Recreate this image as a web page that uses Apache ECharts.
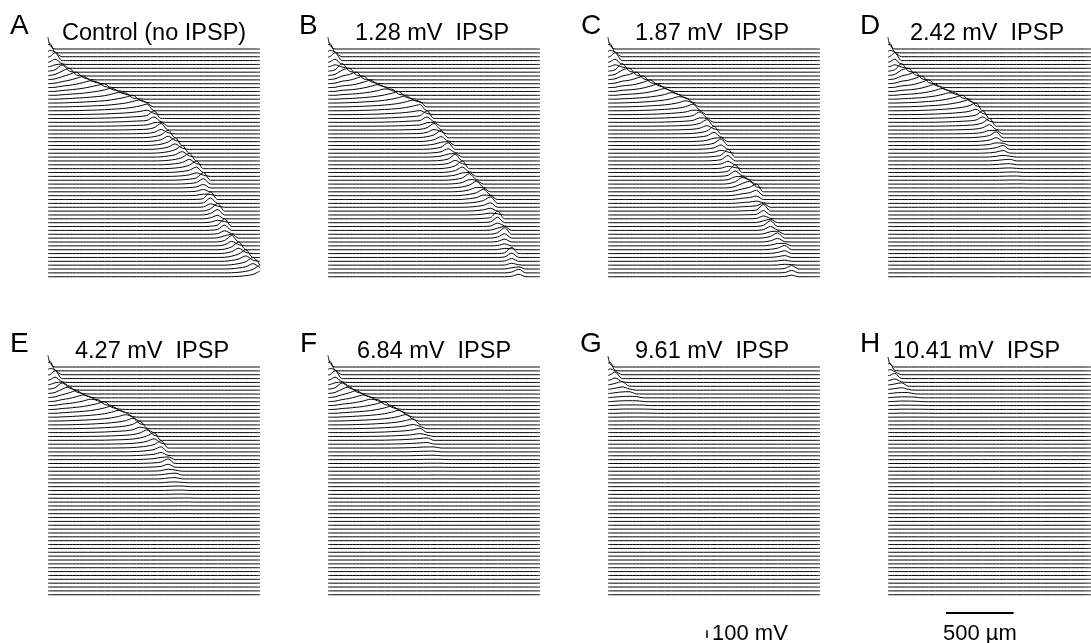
<!DOCTYPE html>
<html><head><meta charset="utf-8">
<script src="https://cdn.jsdelivr.net/npm/echarts@6/dist/echarts.min.js"></script>
<style>html,body{margin:0;padding:0;background:#fff}#c{width:1091px;height:643px}</style>
</head><body><div id="c"></div>
<script>
// distance along dendrite (µm), sample positions
const distanceUm = [0,15,50,100,150,200,250,300,350,400,450,500,550,600,650,700,750,800,850,900,950,1000,1050,1100,1150,1200,1250,1300,1350,1400,1450,1500];
// temporal spike waveform: time relative to arrival (in trace steps) and fraction of peak
const spikeWaveTau  = [-2, -1, -0.5, 0, 1, 2, 3, 4, 6, 8, 10];
const spikeWaveFrac = [0, 0.15, 0.5, 1, 0.7, 0.45, 0.3, 0.2, 0.08, 0.02, 0];
const traceCount = 60;
const traceOffsetMv = 50;
const panelLetters = ['A','B','C','D','E','F','G','H'];
const panelTitles = ['Control (no IPSP)','1.28 mV  IPSP','1.87 mV  IPSP','2.42 mV  IPSP','4.27 mV  IPSP','6.84 mV  IPSP','9.61 mV  IPSP','10.41 mV  IPSP'];
// arrival trace index of spike peak at each distance, and peak amplitude (mV)
const arrivalA = [0,0.7,2.5,5.5,7,8,8.8,9.6,10.3,11,11.8,12.5,13.2,14,14.7,15.5,18,20.5,23,25,27,29,31,34,39,42,46,49.5,52,54,56,58];
const ampA     = [150,130,120,110,100,100,100,100,100,100,100,100,100,100,100,100,100,100,100,100,100,100,100,100,100,100,100,100,100,100,100,105];
const arrivalB = [0,0.7,2.5,6,7,8,9,9.8,10.6,11.4,12.2,13,13.8,14.6,15.3,18,20.5,22.8,25.5,28.5,31,33.5,35.5,37.5,39.5,44,47.5,53,57.5,61,64,67];
const ampB     = [150,130,120,110,100,100,100,100,100,100,100,100,100,100,100,100,100,100,100,100,100,100,100,100,100,100,100,80,55,30,15,8];
const arrivalC = [0,0.7,2.5,6,7,8,9,10,10.8,11.6,12.5,13.4,14.3,15.5,17.5,19.5,22,24.5,28,32,34.5,35.5,37,41.5,45.5,48.5,51.5,57,62,66,70,74];
const ampC     = [150,130,120,110,100,100,100,100,100,100,100,100,100,100,100,100,100,100,100,100,100,100,100,100,90,80,65,45,25,12,6,3];
const arrivalD = [0,0.7,2.5,6,7,8,9,10,10.8,11.6,12.4,13.2,14,14.8,16,18,20,22.5,25.5,28.5,31.5,34.5,37.5,40.5,43.5,46.5,49.5,52.5,55.5,58.5,61.5,64.5];
const ampD     = [150,130,120,110,100,100,100,100,100,100,100,100,100,100,100,100,100,90,60,25,8,2,0,0,0,0,0,0,0,0,0,0];
const arrivalE = [0,0.7,2.5,5.5,6.8,7.8,8.6,9.4,10.2,11,11.8,12.6,13.4,14.5,16,17.5,19,21,24.5,27.5,30.5,33.5,36.5,39.5,42.5,45.5,48.5,51.5,54.5,57.5,60.5,63.5];
const ampE     = [150,130,120,110,100,100,100,100,100,100,100,100,100,100,100,100,100,95,70,30,10,3,0,0,0,0,0,0,0,0,0,0];
const arrivalF = [0,0.7,2.5,5.5,6.8,7.8,8.6,9.4,10.2,11,11.8,12.6,13.6,14.8,16.5,18.5,21,24,27,30,33,36,39,42,45,48,51,54,57,60,63,66];
const ampF     = [150,130,120,110,100,100,100,100,100,100,100,100,95,85,65,38,15,4,1,0,0,0,0,0,0,0,0,0,0,0,0,0];
const arrivalG = [0,0.7,2.5,5,6.5,8,9.5,11,13,15,17,19,21,23,25,27,29,31,33,35,37,39,41,43,45,47,49,51,53,55,57,59];
const ampG     = [140,120,100,60,35,18,8,3,1,0,0,0,0,0,0,0,0,0,0,0,0,0,0,0,0,0,0,0,0,0,0,0];
const arrivalH = [0,0.7,2.5,5,6.5,8,9.5,11,13,15,17,19,21,23,25,27,29,31,33,35,37,39,41,43,45,47,49,51,53,55,57,59];
const ampH     = [130,105,80,45,22,10,4,1,0,0,0,0,0,0,0,0,0,0,0,0,0,0,0,0,0,0,0,0,0,0,0,0];

const arrivals = [arrivalA,arrivalB,arrivalC,arrivalD,arrivalE,arrivalF,arrivalG,arrivalH];
const amps = [ampA,ampB,ampC,ampD,ampE,ampF,ampG,ampH];

function waveAt(tau){
  const T = spikeWaveTau, F = spikeWaveFrac;
  if (tau <= T[0] || tau >= T[T.length-1]) return 0;
  for (let k=0;k<T.length-1;k++){
    if (tau>=T[k] && tau<=T[k+1]){ const f=(tau-T[k])/(T[k+1]-T[k]); return F[k]+(F[k+1]-F[k])*f; }
  }
  return 0;
}

const pxPerMv = 3.86/traceOffsetMv;
const yMax = 200, yMin = -3000;
const colLeft = [48,328,608,888];
const rowBase = [49, 367];
const grids=[], xAxes=[], yAxes=[], series=[], graphics=[];
for (let p=0;p<8;p++){
  const r = Math.floor(p/4), c = p%4;
  grids.push({left: colLeft[c], top: rowBase[r] - yMax*pxPerMv, width: 212, height: (yMax-yMin)*pxPerMv, containLabel:false});
  xAxes.push({type:'value', gridIndex:p, min:0, max:1500, show:false});
  yAxes.push({type:'value', gridIndex:p, min:yMin, max:yMax, show:false});
  for (let i=0;i<traceCount;i++){
    const data = distanceUm.map((x,k)=>[x, amps[p][k]*waveAt(i-arrivals[p][k]) - traceOffsetMv*i]);
    series.push({type:'line', xAxisIndex:p, yAxisIndex:p, data, symbol:'none', smooth:0.3, silent:true,
      lineStyle:{color:'#000', width:1}, animation:false, clip:true});
  }
}
const FONT = '"Liberation Sans", Arial, sans-serif';
const letterPos = [[10,26],[299,26],[581,26],[860,26],[10,344],[300,344],[580,344],[860,344]];
const titlePos = [[62,34],[355,34],[635,34],[910,34],[75,352],[357,352],[635,352],[893,352]];
for (let p=0;p<8;p++){
  graphics.push({type:'text', x:letterPos[p][0], y:letterPos[p][1], style:{text:panelLetters[p], font:'28px '+FONT, fill:'#000', textVerticalAlign:'middle'}});
  graphics.push({type:'text', x:titlePos[p][0], y:titlePos[p][1], style:{text:panelTitles[p], font:'23.5px '+FONT, fill:'#000', textVerticalAlign:'middle'}});
}
const chart = echarts.init(document.getElementById('c'), null, {renderer:'canvas'});
chart.setOption({animation:false, grid:grids, xAxis:xAxes, yAxis:yAxes, series, graphic:graphics});
// scale bars from axis scales
const p0 = chart.convertToPixel({gridIndex:7},[0,0]);
const p500 = chart.convertToPixel({gridIndex:7},[500,0]);
const pm = chart.convertToPixel({gridIndex:6},[0,-100]);
const p0g = chart.convertToPixel({gridIndex:6},[0,0]);
const barLenX = p500[0]-p0[0];
const barLenY = pm[1]-p0g[1];
graphics.push({type:'line', shape:{x1:946, y1:613, x2:946+barLenX, y2:613}, style:{stroke:'#000', lineWidth:2}});
graphics.push({type:'text', x:946+barLenX/2, y:634, style:{text:'500 µm', font:'22px '+FONT, fill:'#000', textAlign:'center', textVerticalAlign:'middle'}});
graphics.push({type:'line', shape:{x1:707, y1:638, x2:707, y2:638-barLenY}, style:{stroke:'#000', lineWidth:1.5}});
graphics.push({type:'text', x:712, y:634, style:{text:'100 mV', font:'22px '+FONT, fill:'#000', textVerticalAlign:'middle'}});
chart.setOption({graphic:graphics});
</script></body></html>
